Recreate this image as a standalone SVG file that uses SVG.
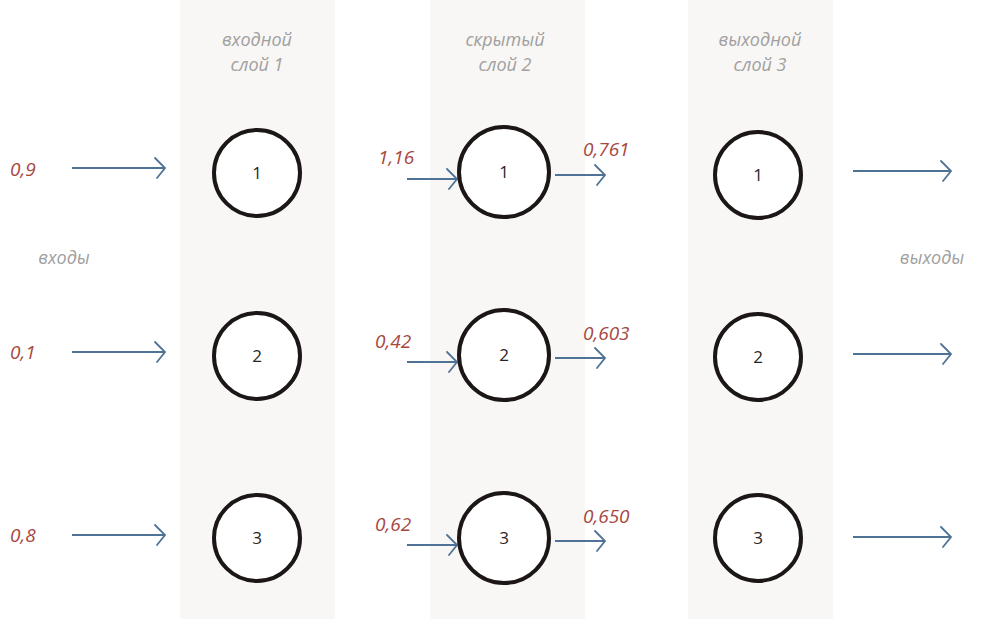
<svg xmlns="http://www.w3.org/2000/svg" width="997" height="619" viewBox="0 0 997 619">
<defs>
<marker id="ah" viewBox="0 0 12 22" refX="11" refY="11" markerWidth="12" markerHeight="22" markerUnits="userSpaceOnUse" orient="auto">
<path d="M1,1 L11,11 L3,21" fill="none" stroke="#4f7396" stroke-width="1.8" stroke-linecap="round"/>
</marker>
<style>
.strip{fill:#f8f7f5}
.node circle{fill:#fff;stroke:#1c1616;stroke-width:4}
.node text{font-family:"Open Sans","DejaVu Sans",sans-serif;font-size:17px;fill:#2a2424;text-anchor:middle}
.lbl{font-family:"Open Sans","DejaVu Sans",sans-serif;font-style:italic;font-size:18px;fill:#a0a0a0;text-anchor:middle}
.val{font-family:"Open Sans","DejaVu Sans",sans-serif;font-style:italic;font-size:19px;fill:#a6483f}
.arr{stroke:#4f7396;stroke-width:2;fill:none;marker-end:url(#ah)}
</style>
</defs>
<rect width="997" height="619" fill="#fff"/>
<rect class="strip" x="180" y="0" width="155" height="619"/>
<rect class="strip" x="430" y="0" width="155" height="619"/>
<rect class="strip" x="688" y="0" width="145" height="619"/>

<g id="labels">
<text class="lbl" x="257" y="46">входной</text>
<text class="lbl" x="257" y="71">слой 1</text>
<text class="lbl" x="505" y="46">скрытый</text>
<text class="lbl" x="505" y="71">слой 2</text>
<text class="lbl" x="760" y="46">выходной</text>
<text class="lbl" x="760" y="71">слой 3</text>
<text class="lbl" x="64" y="264">входы</text>
<text class="lbl" x="932" y="264">выходы</text>
</g>

<g id="values">
<text class="val" x="10" y="176">0,9</text>
<text class="val" x="10" y="359">0,1</text>
<text class="val" x="10" y="542">0,8</text>
<text class="val" x="378" y="164">1,16</text>
<text class="val" x="375" y="348">0,42</text>
<text class="val" x="375" y="531">0,62</text>
<text class="val" x="583" y="156">0,761</text>
<text class="val" x="583" y="340">0,603</text>
<text class="val" x="583" y="523">0,650</text>
</g>

<g id="connectors">
<line class="arr" x1="72" y1="168" x2="165" y2="168"/>
<line class="arr" x1="72" y1="352" x2="165" y2="352"/>
<line class="arr" x1="72" y1="535" x2="165" y2="535"/>
<line class="arr" x1="407" y1="179" x2="457" y2="179"/>
<line class="arr" x1="407" y1="362" x2="457" y2="362"/>
<line class="arr" x1="407" y1="545" x2="457" y2="545"/>
<line class="arr" x1="555" y1="175" x2="605" y2="175"/>
<line class="arr" x1="555" y1="358" x2="605" y2="358"/>
<line class="arr" x1="555" y1="541" x2="605" y2="541"/>
<line class="arr" x1="853" y1="171" x2="951" y2="171"/>
<line class="arr" x1="853" y1="354" x2="951" y2="354"/>
<line class="arr" x1="853" y1="537" x2="951" y2="537"/>
</g>

<g id="n1-1" class="node"><circle cx="257" cy="173" r="43"/><text x="257" y="179">1</text></g>
<g id="n1-2" class="node"><circle cx="257" cy="356" r="43"/><text x="257" y="362">2</text></g>
<g id="n1-3" class="node"><circle cx="257" cy="538" r="43"/><text x="257" y="544">3</text></g>
<g id="n2-1" class="node"><circle cx="504" cy="172" r="45"/><text x="504" y="178">1</text></g>
<g id="n2-2" class="node"><circle cx="504" cy="355" r="45"/><text x="504" y="361">2</text></g>
<g id="n2-3" class="node"><circle cx="504" cy="538" r="45"/><text x="504" y="544">3</text></g>
<g id="n3-1" class="node"><circle cx="758" cy="175" r="43"/><text x="758" y="181">1</text></g>
<g id="n3-2" class="node"><circle cx="758" cy="357" r="43"/><text x="758" y="363">2</text></g>
<g id="n3-3" class="node"><circle cx="758" cy="538" r="43"/><text x="758" y="544">3</text></g>
</svg>
